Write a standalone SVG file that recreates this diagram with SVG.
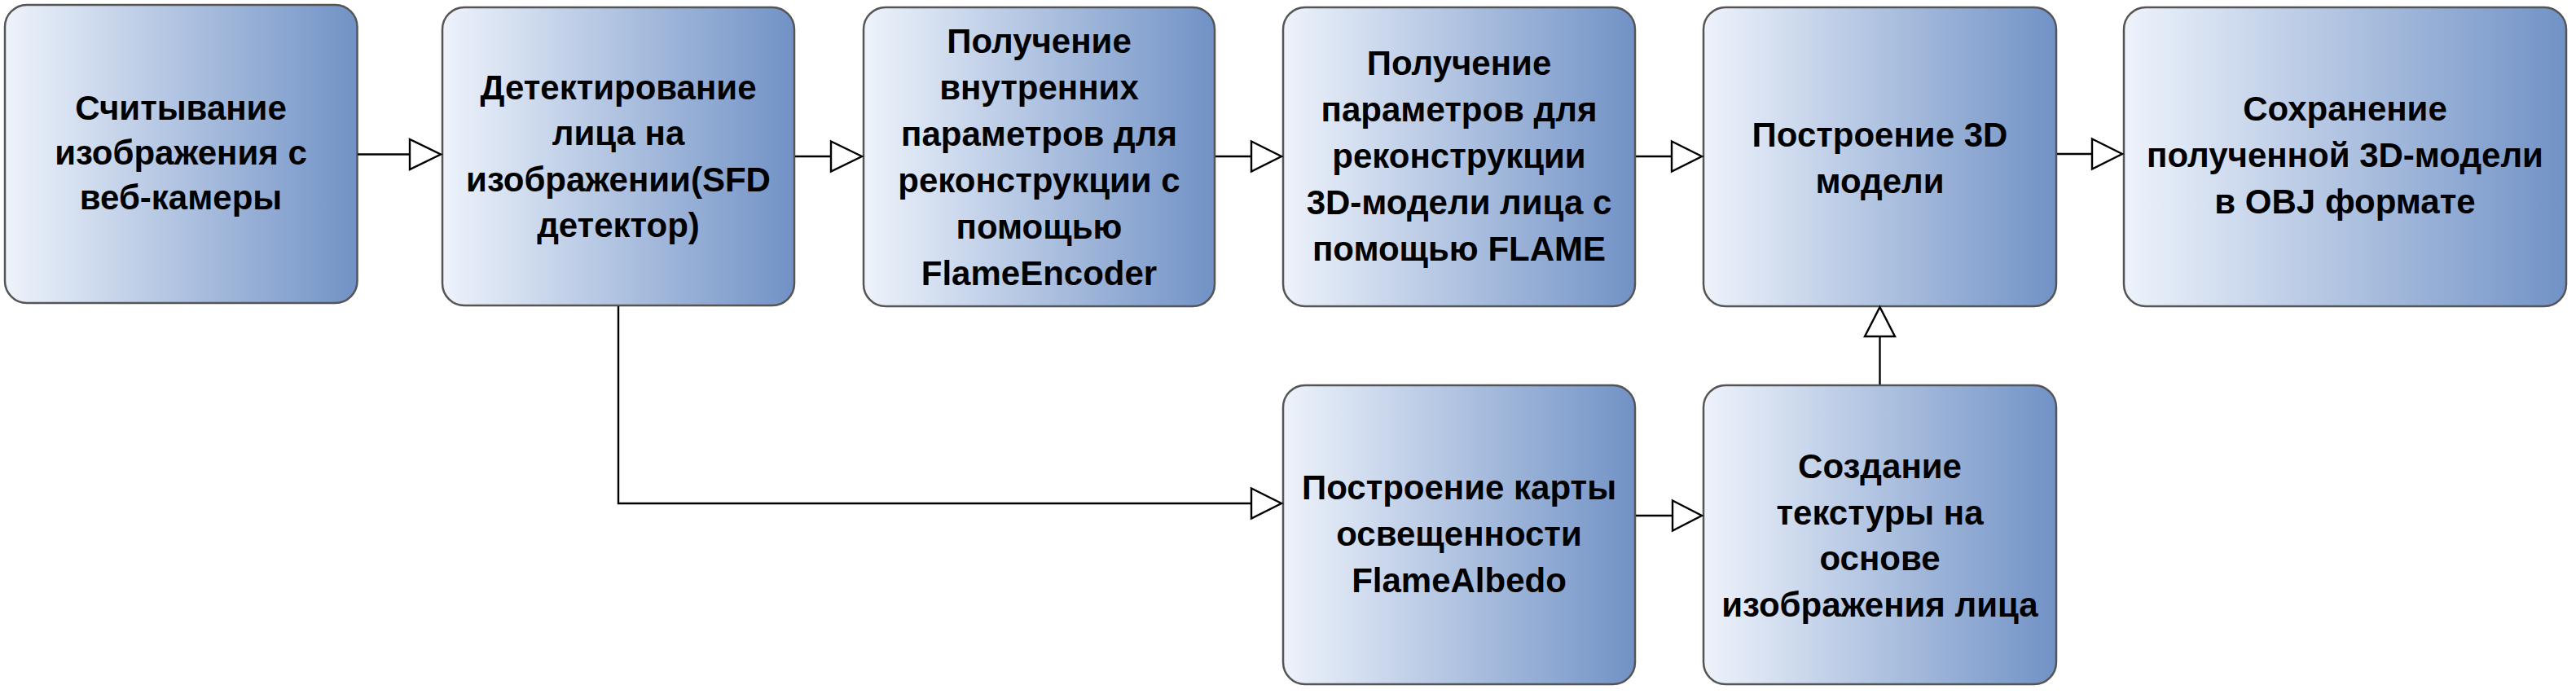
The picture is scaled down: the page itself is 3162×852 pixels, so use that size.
<svg xmlns="http://www.w3.org/2000/svg" width="3162" height="852" viewBox="0 0 3162 852">
<style>
.box{stroke:#555555;stroke-width:2.5;fill:url(#g)}
.lbl{font-family:"Liberation Sans",Arial,sans-serif;font-weight:bold;font-size:42px;fill:#000000;text-anchor:middle}
.con{stroke:#000000;stroke-width:2.4;fill:none}
.ah{fill:#ffffff;stroke:#000000;stroke-width:2.4;stroke-linejoin:miter}
</style>
<defs>
<linearGradient id="g" x1="0" y1="0" x2="1" y2="0">
<stop offset="0" stop-color="#EEF3FB"/>
<stop offset="1" stop-color="#7192C6"/>
</linearGradient>
</defs>
<rect width="3162" height="852" fill="#ffffff"/>
<g id="n1"><rect class="box" x="6" y="6" width="432.5" height="366" rx="27"/>
<text class="lbl"><tspan x="222" y="147">Считывание</tspan><tspan x="222" y="202">изображения с</tspan><tspan x="222" y="257">веб-камеры</tspan></text></g>
<g id="n2"><rect class="box" x="543" y="9" width="432" height="366" rx="27"/>
<text class="lbl"><tspan x="759" y="122">Детектирование</tspan><tspan x="759" y="178">лица на</tspan><tspan x="759" y="235">изображении(SFD</tspan><tspan x="759" y="291">детектор)</tspan></text></g>
<g id="n3"><rect class="box" x="1060" y="9" width="431" height="367" rx="27"/>
<text class="lbl"><tspan x="1275.5" y="65">Получение</tspan><tspan x="1275.5" y="122">внутренних</tspan><tspan x="1275.5" y="179">параметров для</tspan><tspan x="1275.5" y="236">реконструкции с</tspan><tspan x="1275.5" y="293">помощью</tspan><tspan x="1275.5" y="350">FlameEncoder</tspan></text></g>
<g id="n4"><rect class="box" x="1575" y="9" width="432" height="367" rx="27"/>
<text class="lbl"><tspan x="1791" y="92">Получение</tspan><tspan x="1791" y="149">параметров для</tspan><tspan x="1791" y="206">реконструкции</tspan><tspan x="1791" y="263">3D-модели лица с</tspan><tspan x="1791" y="320">помощью FLAME</tspan></text></g>
<g id="n5"><rect class="box" x="2091" y="9" width="433" height="367" rx="27"/>
<text class="lbl"><tspan x="2307.5" y="180">Построение 3D</tspan><tspan x="2307.5" y="237">модели</tspan></text></g>
<g id="n6"><rect class="box" x="2607" y="9" width="543" height="367" rx="27"/>
<text class="lbl"><tspan x="2878.5" y="148">Сохранение</tspan><tspan x="2878.5" y="205">полученной 3D-модели</tspan><tspan x="2878.5" y="262">в OBJ формате</tspan></text></g>
<g id="n7"><rect class="box" x="1575" y="473" width="432" height="367" rx="27"/>
<text class="lbl"><tspan x="1791" y="613">Построение карты</tspan><tspan x="1791" y="670">освещенности</tspan><tspan x="1791" y="727">FlameAlbedo</tspan></text></g>
<g id="n8"><rect class="box" x="2091" y="473" width="433" height="367" rx="27"/>
<text class="lbl"><tspan x="2307.5" y="587">Создание</tspan><tspan x="2307.5" y="644">текстуры на</tspan><tspan x="2307.5" y="700">основе</tspan><tspan x="2307.5" y="757">изображения лица</tspan></text></g>
<g id="connectors">
<path class="con" d="M439,189.5 H503"/><path class="ah" d="M503,171 L541,189.5 L503,208 Z"/>
<path class="con" d="M976,192 H1020"/><path class="ah" d="M1020,173.5 L1058,192 L1020,210.5 Z"/>
<path class="con" d="M1492,192 H1536"/><path class="ah" d="M1536,173.5 L1573,192 L1536,210.5 Z"/>
<path class="con" d="M2008,192 H2052"/><path class="ah" d="M2052,173.5 L2089,192 L2052,210.5 Z"/>
<path class="con" d="M2525,189 H2568"/><path class="ah" d="M2568,170.5 L2605,189 L2568,207.5 Z"/>
<path class="con" d="M759,376 V618 H1536"/><path class="ah" d="M1536,599.5 L1573,618 L1536,636.5 Z"/>
<path class="con" d="M2008,633 H2053"/><path class="ah" d="M2053,614.5 L2089,633 L2053,651.5 Z"/>
<path class="con" d="M2307.5,472 V413"/><path class="ah" d="M2289,413 L2307.5,377 L2326,413 Z"/>
</g>
</svg>
